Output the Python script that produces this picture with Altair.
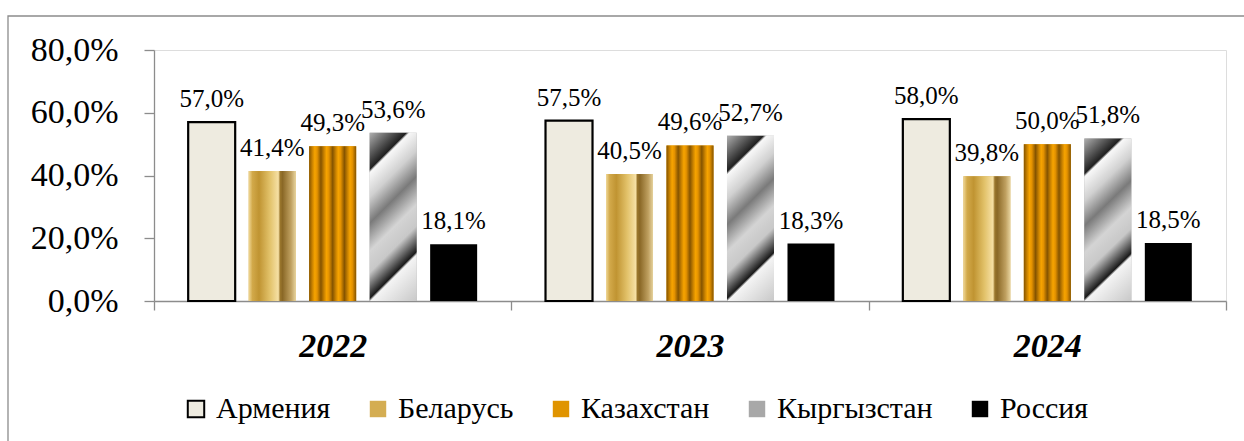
import altair as alt
import pandas as pd

years = ["2022", "2023", "2024"]
countries = ["Армения", "Беларусь", "Казахстан", "Кыргызстан", "Россия"]
armenia = [57.0, 57.5, 58.0]
belarus = [41.4, 40.5, 39.8]
kazakhstan = [49.3, 49.6, 50.0]
kyrgyzstan = [53.6, 52.7, 51.8]
russia = [18.1, 18.3, 18.5]
y_ticks = [0, 20, 40, 60, 80]

series = [armenia, belarus, kazakhstan, kyrgyzstan, russia]
rows = []
for c, vals in zip(countries, series):
    for y, v in zip(years, vals):
        rows.append({"year": y, "country": c, "value": v})
df = pd.DataFrame(rows)

FONT = "'Liberation Serif', 'Times New Roman', 'DejaVu Serif', serif"
AXIS_GREY = "#8c8c8c"

solid_colors = ["#eeebe0", "#d4ad52", "#e09400", "#a8a8a8", "#000000"]
stroke_colors = ["#000000", "transparent", "transparent", "transparent", "transparent"]

x_enc = alt.X("year:N", sort=years, scale=alt.Scale(paddingInner=0, paddingOuter=0),
              axis=alt.Axis(title=None, labelFont=FONT, labelFontSize=34, labelFontStyle="italic",
                            labelFontWeight="bold", labelColor="black", labelAngle=0,
                            labelPadding=19, tickBand="extent", tickSize=9,
                            domainColor=AXIS_GREY, tickColor=AXIS_GREY, domainWidth=1.3, tickWidth=1.3))
xo_enc = alt.XOffset("country:N", sort=countries,
                     scale=alt.Scale(domain=countries, paddingInner=0.223, paddingOuter=0.565))
y_enc = alt.Y("value:Q", scale=alt.Scale(domain=[0, 80]),
              axis=alt.Axis(title=None, values=y_ticks, grid=False, labelFont=FONT, labelFontSize=34,
                            labelColor="black", tickSize=10, labelPadding=26,
                            labelExpr="replace(format(datum.value, '.1f'), '.', ',') + '%'",
                            domainColor=AXIS_GREY, tickColor=AXIS_GREY, domainWidth=1.3, tickWidth=1.3))

legend_def = alt.Legend(title=None, orient="none", direction="horizontal",
                        legendX=27, legendY=344, symbolType="square", symbolSize=270,
                        symbolStrokeWidth=2, labelFont=FONT, labelFontSize=30,
                        labelColor="black", labelOffset=5, columnPadding=32)

base = alt.Chart(df)

bars = base.mark_bar(strokeWidth=2.2).encode(
    x=x_enc, xOffset=xo_enc, y=y_enc,
    fill=alt.Fill("country:N", sort=countries,
                  scale=alt.Scale(domain=countries, range=solid_colors), legend=legend_def),
    stroke=alt.Stroke("country:N", sort=countries,
                      scale=alt.Scale(domain=countries, range=stroke_colors), legend=legend_def),
)

def stops(pairs):
    return [alt.GradientStop(offset=o, color=c) for o, c in pairs]

grad_by = alt.Gradient(gradient="linear", x1=0, y1=0, x2=1, y2=0, stops=stops([
    (0.0, "#f0d898"), (0.08, "#d2a94a"), (0.22, "#c09432"), (0.45, "#e2c26a"),
    (0.63, "#f6e0a4"), (0.67, "#9a762c"), (0.72, "#8a6826"), (0.9, "#bfa060"), (1.0, "#e6d29c")]))

kz_pairs = []
for k in range(4):
    b = k / 4
    kz_pairs += [(b, "#855400"), (b + 0.07, "#cc8400"), (b + 0.12, "#f7a400"),
                 (b + 0.17, "#e49200"), (b + 0.249, "#855400")]
grad_kz = alt.Gradient(gradient="linear", x1=0, y1=0, x2=1, y2=0, stops=stops(kz_pairs))

grad_kg = alt.Gradient(gradient="linear", x1=0, y1=0, x2=0.332, y2=1.187, stops=stops([
    (0.0, "#b0b0b0"), (0.17, "#202020"), (0.185, "#f8f8f8"), (0.30, "#d0d0d0"),
    (0.42, "#7a7a7a"), (0.55, "#d4d4d4"), (0.65, "#c8c8c8"), (0.77, "#1a1a1a"),
    (0.785, "#f4f4f4"), (1.0, "#c8c8c8")]))

overlays = []
for c, g in [("Беларусь", grad_by), ("Казахстан", grad_kz), ("Кыргызстан", grad_kg)]:
    overlays.append(
        base.mark_bar(fill=g).encode(x=x_enc, xOffset=xo_enc, y=y_enc)
        .transform_filter(alt.datum.country == c)
    )

labels = base.mark_text(font=FONT, fontSize=25, baseline="alphabetic", dy=-15, color="black").encode(
    x=x_enc, xOffset=xo_enc, y=y_enc,
    text="label:N",
).transform_calculate(label="replace(format(datum.value, '.1f'), '.', ',') + '%'")

border = alt.Chart(alt.Data(values=[{"a": 1}])).mark_rect(
    filled=False, stroke=AXIS_GREY, strokeWidth=1.3
).encode(x=alt.value(-146), x2=alt.value(1200), y=alt.value(-34), y2=alt.value(500))

chart = alt.layer(border, bars, *overlays, labels).properties(
    width=1072, height=251,
    autosize=alt.AutoSizeParams(type="none"),
    padding={"left": 154, "top": 50, "right": 18, "bottom": 140},
    background="white",
).configure_view(stroke=None).configure_text(font=FONT).configure_legend(
    labelFont=FONT, labelFontSize=30
).configure(font=FONT)

chart.save("out.html", embed_options={"renderer": "svg", "actions": False})
